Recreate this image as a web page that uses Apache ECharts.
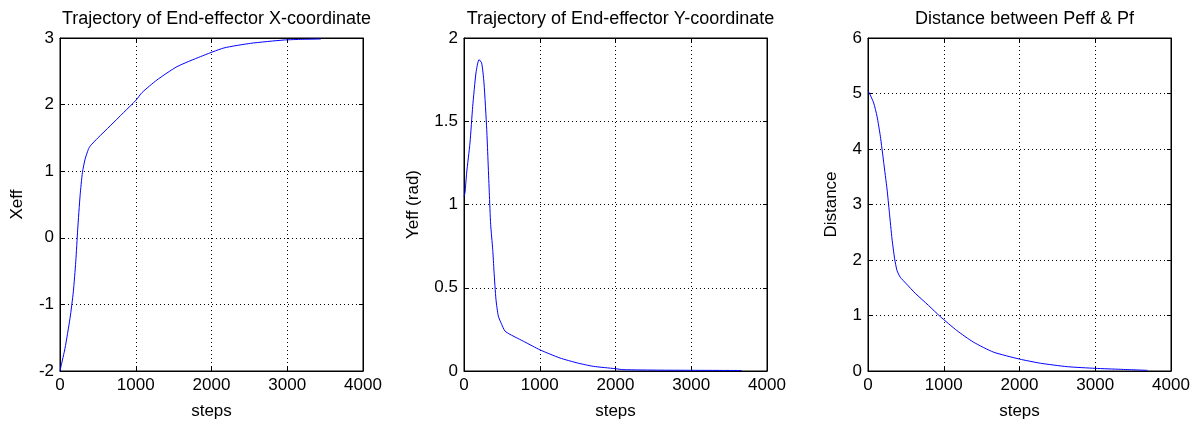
<!DOCTYPE html>
<html>
<head>
<meta charset="utf-8">
<script src="https://cdn.jsdelivr.net/npm/echarts@6/dist/echarts.min.js"></script>
<style>
  html, body { margin: 0; padding: 0; background: #fff; }
  #main { width: 1196px; height: 425px; }
</style>
</head>
<body>
<div id="main"></div>
<script>
// values
const xeffSteps = [0, 13, 66, 132, 176, 208, 234, 265, 296, 331, 375, 400, 500, 662, 839, 1007, 1082, 1280, 1545, 1854, 2163, 2517, 2958, 3200, 3444];
const xeffVals  = [-2.0, -1.93, -1.66, -1.21, -0.81, -0.36, 0.13, 0.63, 0.98, 1.18, 1.33, 1.38, 1.5, 1.68, 1.88, 2.07, 2.18, 2.37, 2.57, 2.72, 2.85, 2.92, 2.97, 2.98, 2.985];

const yeffSteps = [0, 13, 35, 79, 115, 158, 198, 233, 264, 300, 334, 352, 379, 396, 422, 453, 497, 541, 607, 800, 1003, 1267, 1500, 1707, 1997, 2100, 2600, 3100, 3665];
const yeffVals  = [1.05, 1.07, 1.19, 1.37, 1.59, 1.79, 1.87, 1.85, 1.73, 1.45, 1.07, 0.88, 0.73, 0.6, 0.43, 0.33, 0.28, 0.24, 0.22, 0.175, 0.127, 0.078, 0.048, 0.028, 0.014, 0.008, 0.005, 0.004, 0.003];

const distSteps = [0, 17, 75, 119, 163, 207, 251, 282, 317, 352, 383, 426, 500, 624, 800, 955, 1172, 1392, 1657, 2000, 2276, 2630, 3000, 3337, 3690];
const distVals  = [5.05, 5.01, 4.83, 4.59, 4.23, 3.76, 3.28, 2.86, 2.38, 2.02, 1.81, 1.69, 1.58, 1.4, 1.18, 0.98, 0.73, 0.52, 0.34, 0.215, 0.14, 0.078, 0.048, 0.03, 0.012];

const titles = ['Trajectory of End-effector X-coordinate', 'Trajectory of End-effector Y-coordinate', 'Distance between Peff & Pf'];
const yNames = ['Xeff', 'Yeff (rad)', 'Distance'];
const xTicks = [0, 4000, 1000];
const yRanges = [[-2, 3, 1], [0, 2, 0.5], [0, 6, 1]];

const font = 'Liberation Sans, Arial, sans-serif';
const lefts = [60, 464, 868];
const plotW = 303;
const nameGaps = [34, 42, 28];

function pairs(xs, ys) {
  return xs.map((x, i) => [x, ys[i]]);
}
const seriesData = [pairs(xeffSteps, xeffVals), pairs(yeffSteps, yeffVals), pairs(distSteps, distVals)];

const tick = { show: true, inside: true, length: 4, lineStyle: { color: '#000' } };
const dots = { show: true, lineStyle: { color: '#000', type: [1, 3] } };
const plain = v => String(v);

const grids = [], xAxes = [], yAxes = [], series = [], title = [];
for (let i = 0; i < 3; i++) {
  grids.push({ left: lefts[i], top: 38, width: plotW, height: 335, show: true, borderColor: '#000', borderWidth: 1 });
  title.push({
    text: titles[i], left: lefts[i] + plotW / 2, top: 5, textAlign: 'center',
    textStyle: { fontFamily: font, fontSize: 18, fontWeight: 'normal', color: '#000' }
  });
  xAxes.push({
    type: 'value', gridIndex: i, min: xTicks[0], max: xTicks[1], interval: xTicks[2],
    name: 'steps', nameLocation: 'middle', nameGap: 32,
    nameTextStyle: { fontFamily: font, fontSize: 17, color: '#000' },
    axisLine: { onZero: false, lineStyle: { color: '#000' } },
    axisTick: tick,
    axisLabel: { fontFamily: font, fontSize: 17, color: '#000', margin: 6, formatter: plain },
    splitLine: dots
  });
  yAxes.push({
    type: 'value', gridIndex: i, min: yRanges[i][0], max: yRanges[i][1], interval: yRanges[i][2],
    name: yNames[i], nameLocation: 'middle', nameGap: nameGaps[i],
    nameTextStyle: { fontFamily: font, fontSize: 17, color: '#000' },
    axisLine: { show: true, onZero: false, lineStyle: { color: '#000' } },
    axisTick: tick,
    axisLabel: { fontFamily: font, fontSize: 17, color: '#000', margin: 6, formatter: plain },
    splitLine: dots
  });
  series.push({
    type: 'line', xAxisIndex: i, yAxisIndex: i, data: seriesData[i],
    showSymbol: false, smooth: 0.2,
    lineStyle: { color: '#0000ff', width: 1 }, animation: false
  });
}
// tick marks on the top and right edges of each box
for (let i = 0; i < 3; i++) {
  xAxes.push({
    type: 'value', gridIndex: i, position: 'top', min: xTicks[0], max: xTicks[1], interval: xTicks[2],
    axisLine: { onZero: false, lineStyle: { color: '#000' } }, axisTick: tick,
    axisLabel: { show: false }, splitLine: { show: false }
  });
  yAxes.push({
    type: 'value', gridIndex: i, position: 'right', min: yRanges[i][0], max: yRanges[i][1], interval: yRanges[i][2],
    axisLine: { show: true, onZero: false, lineStyle: { color: '#000' } }, axisTick: tick,
    axisLabel: { show: false }, splitLine: { show: false }
  });
}

const chart = echarts.init(document.getElementById('main'));
chart.setOption({
  animation: false,
  backgroundColor: '#fff',
  title: title,
  grid: grids,
  xAxis: xAxes,
  yAxis: yAxes,
  series: series
});
</script>
</body>
</html>
